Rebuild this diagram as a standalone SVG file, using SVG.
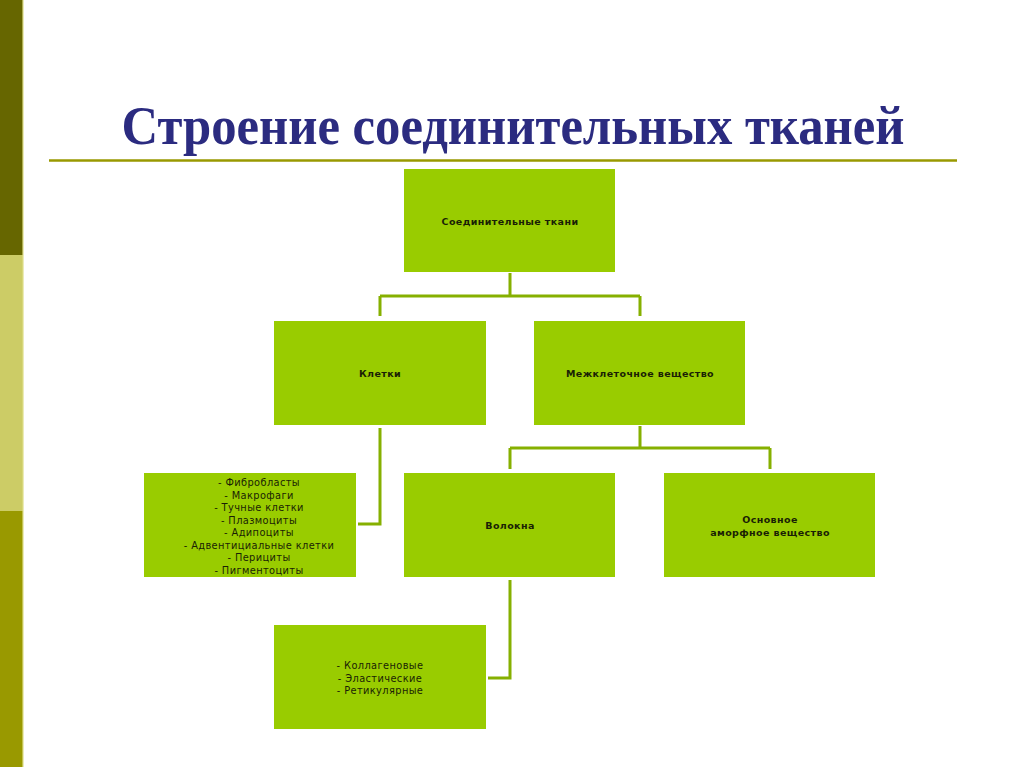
<svg xmlns="http://www.w3.org/2000/svg" width="1024" height="767" viewBox="0 0 1024 767">
<style>
.box{fill:#99CC00}
.lbl{font-family:"DejaVu Sans","Liberation Sans",sans-serif;font-size:9.5px;fill:#1a1f05;text-anchor:middle;letter-spacing:0.4px}
.li{font-size:9.8px}
.b{font-weight:bold}
.con{fill:none;stroke:#86B000;stroke-width:3}
</style>
<rect width="1024" height="767" fill="#ffffff"/>
<g id="sidebar">
<rect x="0" y="0" width="23" height="255" fill="#666600"/>
<rect x="0" y="255" width="23" height="256" fill="#CCCC66"/>
<rect x="0" y="511" width="23" height="256" fill="#999900"/>
<rect x="22" y="0" width="2" height="767" fill="#DDDD88" opacity="0.6"/>
</g>
<text x="513" y="144" font-family="Liberation Serif,serif" font-weight="bold" font-size="55" fill="#2B2B80" text-anchor="middle" textLength="783" lengthAdjust="spacingAndGlyphs">Строение соединительных тканей</text>
<line x1="49" y1="160.5" x2="957" y2="160.5" stroke="#999900" stroke-width="2.5"/>
<g id="connectors">
<path class="con" d="M510 273 V296 M380 296 H640 M380 296 V316 M640 296 V316"/>
<path class="con" d="M640 426 V448 M510 448 H770 M510 448 V469 M770 448 V469"/>
<path class="con" d="M380 428 V524 H358"/>
<path class="con" d="M510 580 V678 H488"/>
</g>
<g id="n-root"><rect class="box" x="404" y="169" width="211" height="103"/><text class="lbl b" x="510" y="225">Соединительные ткани</text></g>
<g id="n-cells"><rect class="box" x="274" y="321" width="212" height="104"/><text class="lbl b" x="380" y="377">Клетки</text></g>
<g id="n-matrix"><rect class="box" x="534" y="321" width="211" height="104"/><text class="lbl b" x="640" y="377">Межклеточное вещество</text></g>
<g id="n-celllist"><rect class="box" x="144" y="473" width="212" height="104"/>
<text class="lbl li" x="259" y="486">- Фибробласты</text>
<text class="lbl li" x="259" y="498.5">- Макрофаги</text>
<text class="lbl li" x="259" y="511">- Тучные клетки</text>
<text class="lbl li" x="259" y="523.5">- Плазмоциты</text>
<text class="lbl li" x="259" y="536">- Адипоциты</text>
<text class="lbl li" x="259" y="548.5">- Адвентициальные клетки</text>
<text class="lbl li" x="259" y="561">- Перициты</text>
<text class="lbl li" x="259" y="573.5">- Пигментоциты</text>
</g>
<g id="n-fibers"><rect class="box" x="404" y="473" width="211" height="104"/><text class="lbl b" x="510" y="529">Волокна</text></g>
<g id="n-ground"><rect class="box" x="664" y="473" width="211" height="104"/>
<text class="lbl b" x="770" y="523">Основное</text>
<text class="lbl b" x="770" y="535.5">аморфное вещество</text></g>
<g id="n-fibertypes"><rect class="box" x="274" y="625" width="212" height="104"/>
<text class="lbl li" x="380" y="669">- Коллагеновые</text>
<text class="lbl li" x="380" y="681.5">- Эластические</text>
<text class="lbl li" x="380" y="694">- Ретикулярные</text>
</g>
</svg>
